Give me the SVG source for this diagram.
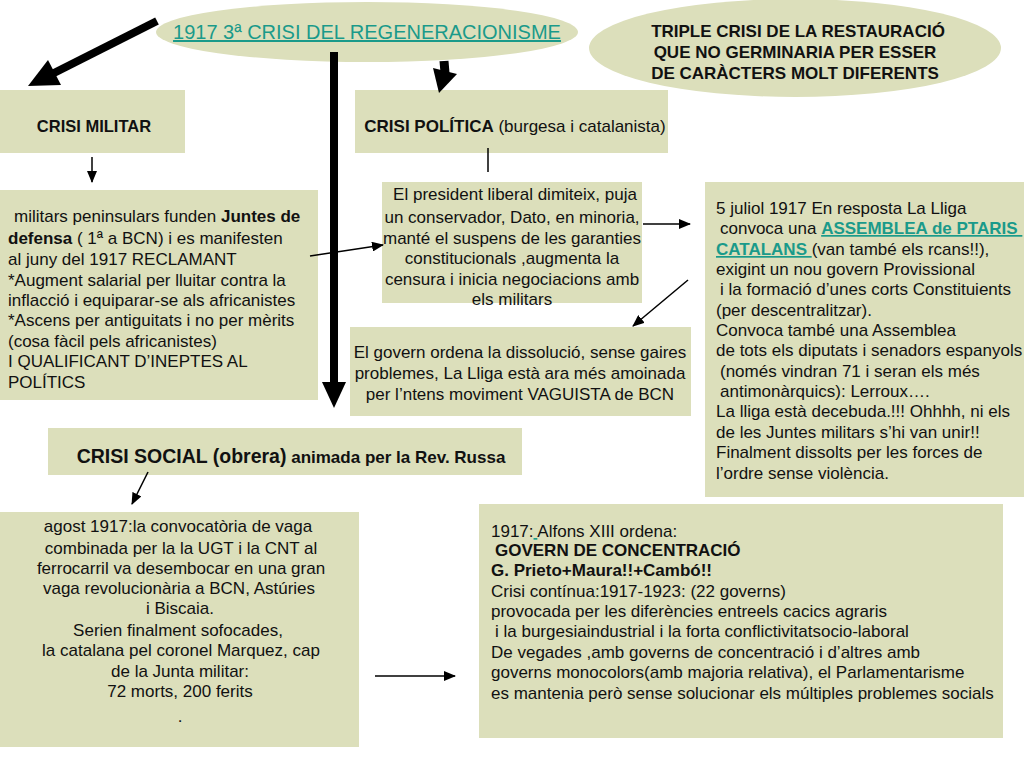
<svg xmlns="http://www.w3.org/2000/svg" width="1024" height="768" viewBox="0 0 1024 768">
<defs>
<style>
.box{fill:#dcdfbb;}
.t{font-family:"Liberation Sans",Arial,sans-serif;font-size:17px;fill:#111;}
.c{text-anchor:middle;}
.b{font-weight:bold;}
.link{fill:#1a9a8a;text-decoration:underline;}
.thin{stroke:#000;stroke-width:1.5;fill:none;}
.thick{stroke:#000;fill:none;}
</style>
<marker id="ah" markerUnits="userSpaceOnUse" markerWidth="12" markerHeight="10" refX="11" refY="5" orient="auto">
<path d="M0,0 L12,5 L0,10 Z" fill="#000"/>
</marker>
</defs>
<rect width="1024" height="768" fill="#fff"/>

<g id="title">
<ellipse cx="367" cy="32" rx="211" ry="30" class="box"/>
<text x="367" y="39" class="t c link" style="font-size:20px">1917 3ª CRISI DEL REGENERACIONISME</text>
</g>

<g id="triple">
<ellipse cx="795" cy="48" rx="206" ry="49" class="box"/>
<text class="t c b" style="font-size:17px"><tspan x="798" y="37">TRIPLE CRISI DE LA RESTAURACIÓ</tspan><tspan x="795" y="58">QUE NO GERMINARIA PER ESSER</tspan><tspan x="795" y="79">DE CARÀCTERS MOLT DIFERENTS</tspan></text>
</g>

<g id="crisi-militar">
<rect x="0" y="90" width="185" height="63" class="box"/>
<text x="94" y="132" class="t c b" style="font-size:16.5px">CRISI MILITAR</text>
</g>

<g id="crisi-politica">
<rect x="355" y="90" width="313" height="63" class="box"/>
<text x="515" y="132" class="t c"><tspan class="b">CRISI POLÍTICA</tspan> (burgesa i catalanista)</text>
</g>

<g id="militars">
<rect x="0" y="190" width="318" height="210" class="box"/>
<text class="t"><tspan x="14" y="222">militars peninsulars funden <tspan class="b">Juntes de</tspan></tspan><tspan x="8" y="244"><tspan class="b">defensa</tspan> ( 1ª a BCN) i es manifesten</tspan><tspan x="8" y="265">al juny del 1917 RECLAMANT</tspan><tspan x="8" y="286">*Augment salarial per lluitar contra la</tspan><tspan x="8" y="306">inflacció i equiparar-se als africanistes</tspan><tspan x="8" y="326">*Ascens per antiguitats i no per mèrits</tspan><tspan x="8" y="347">(cosa fàcil pels africanistes)</tspan><tspan x="8" y="367">I QUALIFICANT D’INEPTES AL</tspan><tspan x="8" y="388">POLÍTICS</tspan></text>
</g>

<g id="president">
<rect x="382" y="182" width="260" height="121" class="box"/>
<text class="t c"><tspan x="515" y="200">El president liberal dimiteix, puja</tspan><tspan x="512" y="223">un conservador, Dato, en minoria,</tspan><tspan x="512" y="244">manté el  suspens de les garanties</tspan><tspan x="512" y="264">constitucionals ,augmenta la</tspan><tspan x="512" y="285">censura i inicia negociacions amb</tspan><tspan x="512" y="305">els militars</tspan></text>
</g>

<g id="govern">
<rect x="350" y="327" width="341" height="89" class="box"/>
<text class="t c"><tspan x="520" y="358">El govern ordena la dissolució, sense gaires</tspan><tspan x="520" y="379">problemes, La Lliga està ara més amoinada</tspan><tspan x="520" y="400">per l’ntens moviment VAGUISTA de BCN</tspan></text>
</g>

<g id="assemblea">
<rect x="705" y="182" width="319" height="315" class="box"/>
<text class="t"><tspan x="716" y="214">5 juliol 1917 En resposta La Lliga</tspan><tspan x="720" y="234">convoca una <tspan class="b link">ASSEMBLEA de PTARIS </tspan></tspan><tspan x="716" y="255"><tspan class="b link">CATALANS </tspan>(van també els rcans!!),</tspan><tspan x="716" y="275">exigint un nou govern Provissional</tspan><tspan x="720" y="295">i la formació d’unes corts Constituients</tspan><tspan x="716" y="316">(per descentralitzar).</tspan><tspan x="716" y="336">Convoca també una Assemblea</tspan><tspan x="716" y="356">de tots els diputats i senadors espanyols</tspan><tspan x="720" y="377">(només vindran 71 i seran els més</tspan><tspan x="720" y="397">antimonàrquics): Lerroux….</tspan><tspan x="716" y="417">La lliga està decebuda.!!! Ohhhh, ni els</tspan><tspan x="716" y="438">de les Juntes militars s’hi van unir!!</tspan><tspan x="716" y="458">Finalment dissolts per les forces de</tspan><tspan x="716" y="479">l’ordre sense violència.</tspan></text>
</g>

<g id="crisi-social">
<rect x="48" y="428" width="474" height="47" class="box"/>
<text x="291" y="463" class="t c b"><tspan style="font-size:19.5px">CRISI SOCIAL (obrera)</tspan><tspan style="font-size:17px"> animada per la Rev. Russa</tspan></text>
</g>

<g id="agost">
<rect x="0" y="512" width="359" height="235" class="box"/>
<text class="t c"><tspan x="178" y="532">agost 1917:la convocatòria de vaga</tspan><tspan x="181" y="554">combinada per la la UGT i la CNT al</tspan><tspan x="181" y="574">ferrocarril va desembocar en una gran</tspan><tspan x="179" y="594">vaga revolucionària a BCN, Astúries</tspan><tspan x="180" y="614">i Biscaia.</tspan><tspan x="178" y="636">Serien finalment sofocades,</tspan><tspan x="181" y="656">la catalana pel coronel Marquez, cap</tspan><tspan x="180" y="677">de la Junta militar:</tspan><tspan x="180" y="697">72 morts, 200 ferits</tspan><tspan x="180" y="722">.</tspan></text>
</g>

<g id="alfons">
<rect x="479" y="504" width="524" height="234" class="box"/>
<text class="t"><tspan x="491" y="537">1917:<tspan class="link"> </tspan>Alfons XIII ordena:</tspan><tspan x="495" y="556" class="b">GOVERN DE CONCENTRACIÓ</tspan><tspan x="491" y="576" class="b">G. Prieto+Maura!!+Cambó!!</tspan><tspan x="491" y="597">Crisi contínua:1917-1923: (22 governs)</tspan><tspan x="491" y="617">provocada per les diferències entreels cacics agraris</tspan><tspan x="495" y="637">i la burgesiaindustrial i la forta conflictivitatsocio-laboral</tspan><tspan x="491" y="658">De vegades ,amb governs de concentració i d’altres amb</tspan><tspan x="491" y="678">governs monocolors(amb majoria relativa), el Parlamentarisme</tspan><tspan x="491" y="699">es mantenia però sense solucionar els múltiples problemes socials</tspan></text>
</g>

<g id="connectors">
<line x1="157" y1="21" x2="52" y2="74" class="thick" stroke-width="8"/>
<polygon points="28,86 61,85 48,60" fill="#000"/>
<line x1="334" y1="52" x2="334" y2="385" class="thick" stroke-width="8"/>
<polygon points="322,382 346,382 334,408" fill="#000"/>
<line x1="444" y1="61" x2="445" y2="73" class="thick" stroke-width="9"/>
<polygon points="433,68 457,74 439,93" fill="#000"/>
<line x1="92" y1="157" x2="92" y2="182" class="thin" marker-end="url(#ah)"/>
<line x1="488" y1="148" x2="488" y2="172" class="thin"/>
<line x1="310" y1="256" x2="383" y2="245" class="thin" marker-end="url(#ah)"/>
<line x1="643" y1="224" x2="690" y2="224" class="thin" marker-end="url(#ah)"/>
<line x1="688" y1="280" x2="633" y2="326" class="thin" marker-end="url(#ah)"/>
<line x1="148" y1="472" x2="132" y2="504" class="thin" marker-end="url(#ah)"/>
<line x1="375" y1="676" x2="455" y2="676" class="thin" marker-end="url(#ah)"/>
</g>
</svg>
